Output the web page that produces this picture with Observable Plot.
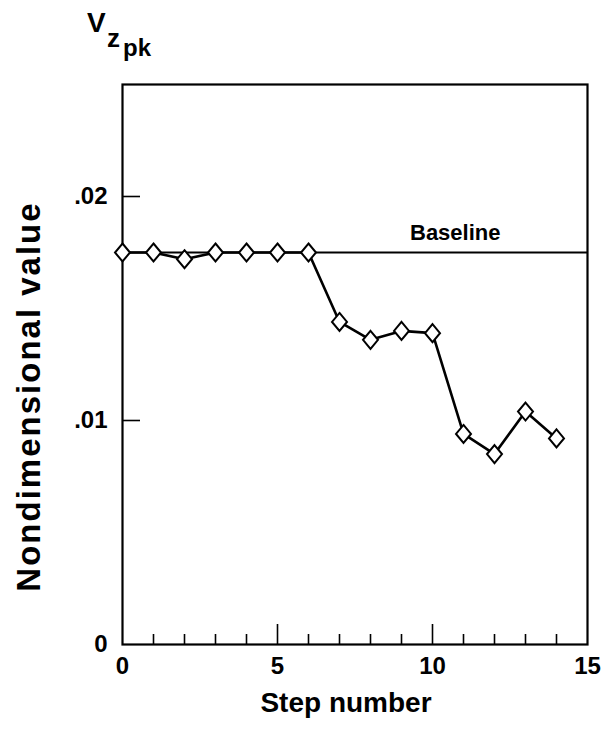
<!DOCTYPE html>
<html>
<head>
<meta charset="utf-8">
<script src="https://cdn.jsdelivr.net/npm/d3@7"></script>
<script src="https://cdn.jsdelivr.net/npm/@observablehq/plot@0.6"></script>
<style>
  html, body { margin: 0; padding: 0; background: #fff; }
  #chart { width: 608px; font-family: "Liberation Sans", Arial, sans-serif; font-weight: bold; color: #000; }
  #title { position: relative; height: 70px; }
  #title span { position: absolute; line-height: 1; white-space: nowrap; }
  #chart svg { display: block; }
</style>
</head>
<body>
<div id="chart">
  <div id="title">
    <span style="left:87px;top:9px;font-size:28px;">V</span>
    <span style="left:107px;top:25px;font-size:26px;">z</span>
    <span style="left:123px;top:36px;font-size:24px;">pk</span>
  </div>
</div>
<script>
// Peak vertical velocity per design step, nondimensionalized
const steps = [0, 1, 2, 3, 4, 5, 6, 7, 8, 9, 10, 11, 12, 13, 14];
const values = [0.0175, 0.0175, 0.0172, 0.0175, 0.0175, 0.0175, 0.0175,
                0.0144, 0.0136, 0.0140, 0.0139, 0.0094, 0.0085, 0.0104, 0.0092];
const baseline = 0.0175;

// Axis ticks and labels
const xLabelTicks = [0, 5, 10, 15];
const xMajorTicks = [5, 10];
const xMinorTicks = [1, 2, 3, 4, 6, 7, 8, 9, 11, 12, 13, 14];
const yTicks = [0.01, 0.02];
const yLabelTicks = [0, 0.01, 0.02];
const xDomain = [0, 15];
const yDomain = [0, 0.025];
const yTitle = "Nondimensional value";

const data = steps.map((s, i) => ({step: s, value: values[i]}));

// Open diamond, a touch taller than wide
const diamond = {
  draw(context, size) {
    const r = Math.sqrt(size / Math.PI);
    context.moveTo(0, -r * 1.2);
    context.lineTo(r, 0);
    context.lineTo(0, r * 1.2);
    context.lineTo(-r, 0);
    context.closePath();
  }
};

const yFormat = d => d === 0 ? "0" : d3.format(".2f")(d).replace(/^0/, "");

const chart = Plot.plot({
  width: 608,
  height: 664,
  marginTop: 14,
  marginLeft: 122,
  marginRight: 21,
  marginBottom: 90,
  style: {fontFamily: "'Liberation Sans', Arial, sans-serif", fontWeight: "bold", fontSize: "24px", color: "#000", background: "#fff"},
  x: {domain: xDomain, label: null},
  y: {domain: yDomain, label: null},
  marks: [
    Plot.frame({stroke: "#000", strokeWidth: 2.2}),
    // inward ticks
    Plot.axisX(xMinorTicks, {tickSize: -10, fill: "none", strokeWidth: 1.6, label: null}),
    Plot.axisX(xMajorTicks, {tickSize: -20, fill: "none", strokeWidth: 1.6, label: null}),
    Plot.axisY(yTicks, {tickSize: -18, fill: "none", strokeWidth: 1.6, label: null}),
    // tick labels
    Plot.axisX(xLabelTicks, {tickSize: 0, tickPadding: 12, label: null, tickFormat: d => String(d)}),
    Plot.axisY(yLabelTicks, {tickSize: 0, tickPadding: 15, label: null, tickFormat: yFormat}),
    // axis titles
    Plot.text(["Step number"], {frameAnchor: "bottom", lineAnchor: "middle", textAnchor: "middle", dx: -9, dy: 59, fontSize: 28}),
    Plot.text([yTitle], {frameAnchor: "left", lineAnchor: "middle", textAnchor: "middle", rotate: -90, dx: -93, dy: 32, fontSize: 33}),
    // baseline reference
    Plot.ruleY([baseline], {stroke: "#000", strokeWidth: 1.8}),
    Plot.text(["Baseline"], {frameAnchor: "right", y: [baseline], textAnchor: "end", dx: -87, dy: -20, fontSize: 22}),
    // series
    Plot.line(data, {x: "step", y: "value", stroke: "#000", strokeWidth: 2.6}),
    Plot.dot(data, {x: "step", y: "value", symbol: diamond, r: 7.5, fill: "#fff", stroke: "#000", strokeWidth: 2})
  ]
});

// widen the vertical axis title a little
d3.select(chart).selectAll("text")
  .filter(function () { return this.textContent === yTitle; })
  .style("letter-spacing", "2px");

document.getElementById("chart").appendChild(chart);
</script>
</body>
</html>
